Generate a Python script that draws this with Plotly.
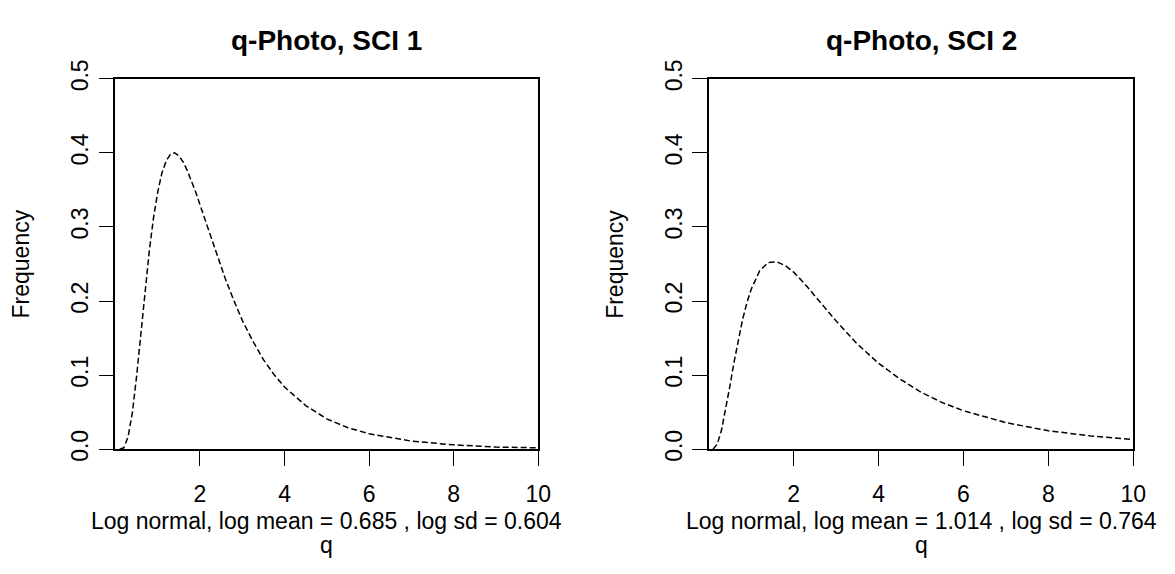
import plotly.graph_objects as go

# ---- data ----
q_sci1 = [0.1, 0.2, 0.3, 0.4, 0.5, 0.6, 0.7, 0.8, 0.9, 1.0, 1.1, 1.2, 1.3, 1.4, 1.5,
          1.6, 1.7, 1.8, 1.9, 2.0, 2.2, 2.4, 2.6, 2.8, 3.0, 3.25, 3.5, 3.75, 4.0,
          4.5, 5.0, 5.5, 6.0, 7.0, 8.0, 9.0, 10.0]
freq_sci1 = [0.000, 0.002, 0.017, 0.049, 0.098, 0.155, 0.213, 0.267, 0.312, 0.347,
             0.373, 0.389, 0.398, 0.400, 0.396, 0.388, 0.376, 0.362, 0.347, 0.330,
             0.296, 0.262, 0.230, 0.201, 0.174, 0.146, 0.121, 0.101, 0.084,
             0.059, 0.041, 0.029, 0.021, 0.011, 0.006, 0.003, 0.002]

q_sci2 = [0.1, 0.2, 0.3, 0.4, 0.5, 0.6, 0.7, 0.8, 0.9, 1.0, 1.2, 1.4, 1.6, 1.8, 2.0,
          2.25, 2.5, 2.75, 3.0, 3.5, 4.0, 4.5, 5.0, 5.5, 6.0, 7.0, 8.0, 9.0, 10.0]
freq_sci2 = [0.000, 0.007, 0.026, 0.054, 0.086, 0.119, 0.149, 0.176, 0.198, 0.216,
             0.241, 0.252, 0.253, 0.248, 0.239, 0.224, 0.207, 0.190, 0.173, 0.142,
             0.116, 0.095, 0.077, 0.063, 0.052, 0.036, 0.025, 0.018, 0.013]

x_ticks = [2, 4, 6, 8, 10]
y_ticks = [0.0, 0.1, 0.2, 0.3, 0.4, 0.5]
y_tick_labels = ["0.0", "0.1", "0.2", "0.3", "0.4", "0.5"]

titles = ["q-Photo, SCI 1", "q-Photo, SCI 2"]
subtitles = ["Log normal, log mean = 0.685 , log sd = 0.604",
             "Log normal, log mean = 1.014 , log sd = 0.764"]

# ---- layout geometry ----
W, H = 1175, 574
FONT = "Liberation Sans, Arial, sans-serif"
FS = 23
panels = [(116.7, 544.3), (716.7, 1146.0)]
top_px, bot_px = 63.3, 455.7

fig = go.Figure()
line_style = dict(color="black", width=1.5, dash="6px,3px")
fig.add_trace(go.Scatter(x=q_sci1, y=freq_sci1, mode="lines", line=line_style,
                         xaxis="x", yaxis="y", hoverinfo="skip"))
fig.add_trace(go.Scatter(x=q_sci2, y=freq_sci2, mode="lines", line=line_style,
                         xaxis="x2", yaxis="y2", hoverinfo="skip"))

ydom = [(H - bot_px) / H, (H - top_px) / H]
common_x = dict(range=[0, 10], tickvals=x_ticks, ticks="outside", ticklen=15,
                tickwidth=1.4, tickcolor="black", showline=True, mirror=True,
                linecolor="black", linewidth=1.5, showgrid=False, zeroline=False,
                tickfont=dict(family=FONT, size=FS, color="black"),
                ticklabelstandoff=8, fixedrange=True)
common_y = dict(range=[0, 0.5], tickvals=y_ticks, ticktext=y_tick_labels,
                ticks="outside", ticklen=15, tickwidth=1.4, tickcolor="black",
                showline=True, mirror=True, linecolor="black", linewidth=1.5,
                showgrid=False, zeroline=False, tickangle=-90,
                tickfont=dict(family=FONT, size=FS, color="black"),
                ticklabelstandoff=1, fixedrange=True)

annotations = []
for i, (l, r) in enumerate(panels):
    cx = (l + r) / 2 / W
    annotations.append(dict(text="<b>%s</b>" % titles[i], x=cx, y=1 - 23 / H,
                            xref="paper", yref="paper", showarrow=False,
                            xanchor="center", yanchor="middle",
                            font=dict(family=FONT, size=28, color="black")))
    annotations.append(dict(text=subtitles[i], x=cx, y=1 - 532 / H,
                            xref="paper", yref="paper", showarrow=False,
                            xanchor="center", yanchor="middle",
                            font=dict(family=FONT, size=FS, color="black")))
    annotations.append(dict(text="q", x=cx, y=1 - 557 / H,
                            xref="paper", yref="paper", showarrow=False,
                            xanchor="center", yanchor="middle",
                            font=dict(family=FONT, size=FS, color="black")))
    annotations.append(dict(text="Frequency", x=(l - 95) / W,
                            y=1 - (top_px + bot_px) / 2 / H,
                            xref="paper", yref="paper", showarrow=False,
                            xanchor="center", yanchor="middle", textangle=-90,
                            font=dict(family=FONT, size=FS, color="black")))

fig.update_layout(
    width=W, height=H, autosize=False,
    margin=dict(l=0, r=0, t=0, b=0),
    paper_bgcolor="white", plot_bgcolor="white", showlegend=False,
    xaxis=dict(domain=[panels[0][0] / W, panels[0][1] / W], anchor="y", **common_x),
    yaxis=dict(domain=ydom, anchor="x", **common_y),
    xaxis2=dict(domain=[panels[1][0] / W, panels[1][1] / W], anchor="y2", **common_x),
    yaxis2=dict(domain=ydom, anchor="x2", **common_y),
    annotations=annotations,
)

fig.write_html("out.html", config={"displayModeBar": False})
